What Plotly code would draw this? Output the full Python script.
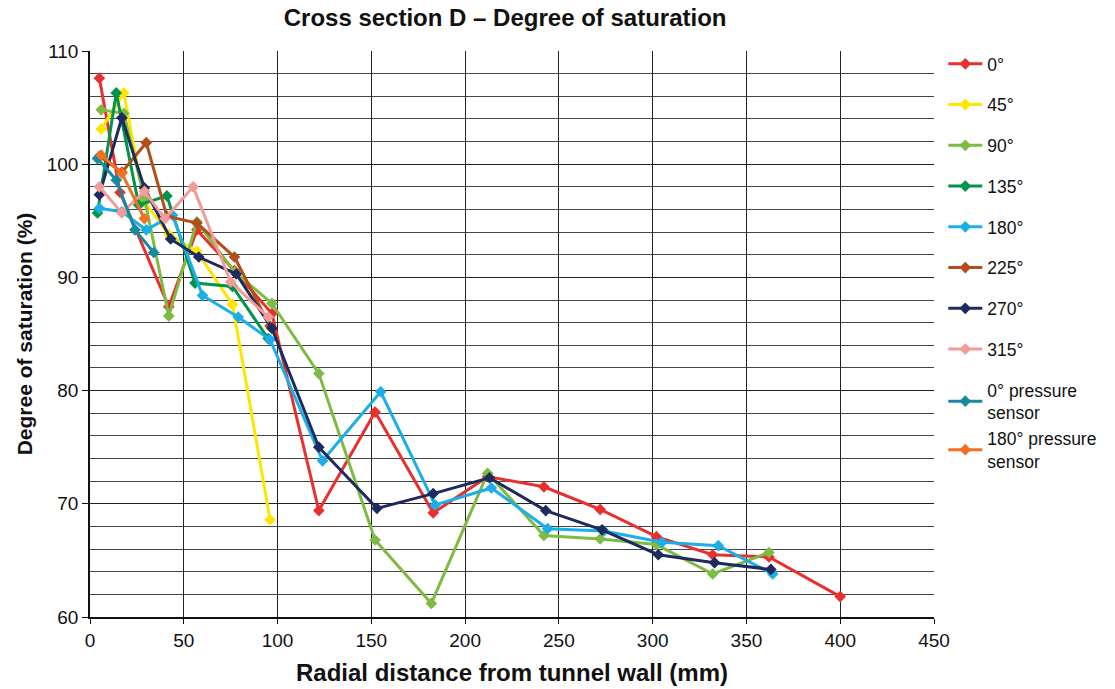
import plotly.graph_objects as go

# ---- data ----
x_0 = [5, 16, 42, 57, 77, 97, 122, 152, 183, 212, 242, 272, 302, 332, 362, 400]
y_0 = [107.6, 97.5, 87.4, 94.2, 90.6, 86.8, 69.4, 78.1, 69.2, 72.4, 71.5, 69.5, 67.1, 65.5, 65.3, 61.8]

x_45 = [6, 18, 29, 42, 57, 76, 96]
y_45 = [103.1, 106.3, 96.7, 93.8, 92.3, 87.6, 68.6]

x_90 = [6, 18, 29, 42, 57, 77, 97, 122, 152, 182, 212, 242, 272, 302, 332, 362]
y_90 = [104.8, 104.5, 97.0, 86.6, 94.9, 90.5, 87.7, 81.5, 66.8, 61.2, 72.7, 67.2, 66.9, 66.4, 63.8, 65.7]

x_135 = [4, 14, 26, 41, 56, 76, 95]
y_135 = [95.7, 106.3, 96.4, 97.2, 89.5, 89.2, 84.6]

x_180 = [5, 17, 30, 44, 60, 79, 96, 124, 155, 184, 214, 244, 274, 305, 335, 364]
y_180 = [96.1, 95.8, 94.2, 95.5, 88.4, 86.5, 84.5, 73.8, 79.9, 69.9, 71.4, 67.8, 67.6, 66.6, 66.3, 63.8]

x_225 = [5, 17, 30, 41, 57, 77, 96]
y_225 = [100.7, 99.3, 101.9, 95.4, 94.8, 91.8, 85.7]

x_270 = [5, 17, 29, 43, 58, 78, 97, 122, 153, 183, 213, 243, 273, 303, 333, 363]
y_270 = [97.3, 104.1, 97.9, 93.4, 91.8, 90.3, 85.5, 75.0, 69.6, 70.9, 72.3, 69.4, 67.7, 65.5, 64.8, 64.2]

x_315 = [5, 17, 29, 40, 55, 75, 95]
y_315 = [98.0, 95.7, 97.6, 95.2, 98.0, 89.6, 86.5]

x_p0 = [4, 14, 24, 34]
y_p0 = [100.5, 98.6, 94.2, 92.2]

x_p180 = [6, 17, 29]
y_p180 = [100.8, 99.2, 95.2]

series = [
    ("0°", x_0, y_0, "#E8312F", "g0"),
    ("45°", x_45, y_45, "#FFE500", "g1"),
    ("90°", x_90, y_90, "#7DBB42", "g2"),
    ("135°", x_135, y_135, "#00954A", "g3"),
    ("180°", x_180, y_180, "#1BAEE8", "g4"),
    ("225°", x_225, y_225, "#B24E1A", "g5"),
    ("270°", x_270, y_270, "#1E2B5E", "g6"),
    ("315°", x_315, y_315, "#F29C9A", "g7"),
    ("0° pressure<br>sensor", x_p0, y_p0, "#168A9E", "g8"),
    ("180° pressure<br>sensor", x_p180, y_p180, "#F07122", "g8"),
]

fig = go.Figure()
for name, xs, ys, col, grp in series:
    fig.add_trace(go.Scatter(
        x=xs, y=ys, name=name, mode="lines+markers",
        line=dict(color=col, width=3),
        marker=dict(symbol="diamond", size=9, color=col),
        legendgroup=grp,
    ))

font_family = "Liberation Sans, Arial, sans-serif"
fig.update_layout(
    width=1115, height=689,
    margin=dict(l=90, r=181, t=51, b=72, autoexpand=False),
    paper_bgcolor="white", plot_bgcolor="white",
    font=dict(family=font_family, size=18, color="#111"),
    title=dict(text="<b>Cross section D – Degree of saturation</b>",
               x=0.453, xanchor="center", y=0.974, yanchor="middle",
               font=dict(size=24, family=font_family, color="#111")),
    legend=dict(x=1.011, xanchor="left", y=1.009, yanchor="top",
                font=dict(size=17.5, family=font_family, color="#111"),
                tracegroupgap=15, itemwidth=34, maxheight=680,
                bgcolor="rgba(0,0,0,0)"),
    showlegend=True,
)
fig.update_xaxes(
    range=[0, 450], dtick=50, tick0=0,
    showgrid=True, gridcolor="#222", gridwidth=1,
    showline=True, linecolor="#111", linewidth=1.5,
    ticks="outside", ticklen=5, tickcolor="#111",
    zeroline=False,
    tickfont=dict(size=19),
    title=dict(text="<b>Radial distance from tunnel wall (mm)</b>",
               font=dict(size=24), standoff=15),
)
fig.update_yaxes(
    range=[60, 110], dtick=10, tick0=60,
    showgrid=True, gridcolor="#222", gridwidth=1,
    minor=dict(dtick=2, showgrid=True, gridcolor="#444", gridwidth=1),
    showline=True, linecolor="#111", linewidth=1.5,
    ticks="outside", ticklen=6, tickcolor="#111",
    zeroline=False,
    tickfont=dict(size=19),
    title=dict(text="<b>Degree of saturation (%)</b>",
               font=dict(size=21), standoff=8),
)

fig.write_html("out.html")
